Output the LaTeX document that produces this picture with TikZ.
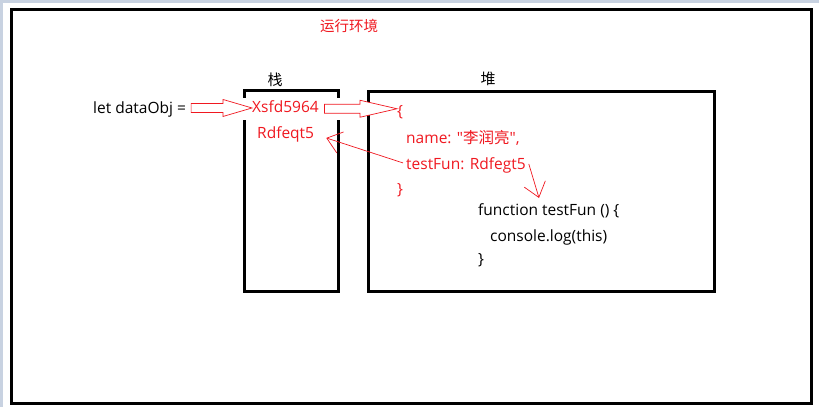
\documentclass[tikz,border=0pt]{standalone}
\usepackage{fontspec}
\setmainfont{Open Sans}
\newfontfamily\cjk{Noto Sans CJK SC}
\newfontfamily\qfont{Open Sans}
\usepackage{tikz}
\usetikzlibrary{positioning, calc, arrows.meta}
\definecolor{myred}{RGB}{240,24,32}
\definecolor{bgframe}{RGB}{200,210,225}

\tikzset{
	txt/.style={inner sep=0pt, anchor=base west, font=\fontsize{15.5}{18}\selectfont},
	code/.style={txt, text=myred},
	hanzi/.style={inner sep=0pt, font=\cjk\fontsize{15}{18}\selectfont},
	box/.style={draw, line width=3pt},
	addrbox/.style={code, fill=white, text width=80pt, align=left, inner xsep=9pt, inner ysep=3pt, text height=11.5pt, text depth=5pt},
	ptr/.style={draw=myred, line width=0.7pt, -{Straight Barb[length=14pt, width=22pt]}},
	bigarrow/.style={draw=myred, fill=white, line width=0.7pt,
		to path={let \p1=(\tikztostart), \p2=(\tikztotarget) in
			(\x1,\y1+4.5pt) -- (\x2-#1,\y1+4.5pt) -- (\x2-#1,\y1+8.5pt) -- (\x2,\y1)
			-- (\x2-#1,\y1-8.5pt) -- (\x2-#1,\y1-4.5pt) -- (\x1,\y1-4.5pt) -- cycle}},
	bigarrow/.default=30pt
}

\begin{document}
\begin{tikzpicture}[x=1pt, y=-1pt]
	\useasboundingbox (0,0) rectangle (819,407);
	\fill[bgframe] (0,0) rectangle (819,407);
	\fill[white] (3,3) rectangle (819,407);
	\draw[line width=3pt] (11.5,9.5) rectangle (811.5,403.5);

	\node[box, minimum width=94pt, minimum height=201pt] (stack) at (291.5,191) {};
	\node[box, minimum width=346pt, minimum height=200pt] (heap) at (541.5,191.5) {};

	\node[hanzi, text=myred, font=\cjk\fontsize{14.5}{18}\selectfont] (env) at (349,26) {运行环境};
	\node[hanzi] (stackname) at (275,80) {栈};
	\node[hanzi] (heapname) at (488,79) {堆};

	\node[txt] (letObj) at (93,113) {let dataObj =};
	\node[addrbox] (addr) at (243,112) {Xsfd5964};
	\node[code] (fnAddr) at (257,138) {Rdfeqt5};

	\node[code] (open) at (397,116) {\{};
	\node[code] (name) at (406,143) {name: {\qfont"}{\cjk 李润亮}{\qfont"},};
	\node[code] (testFun) at (406,169) {testFun: Rdfegt5};
	\node[code] (close) at (397,194) {\}};

	\node[txt] (fnHead) at (478,215) {function testFun () \{};
	\node[txt] (fnBody) at (490,241) {console.log(this)};
	\node[txt] (fnClose) at (478,264) {\}};

	\draw[bigarrow=29pt] ($(letObj.east)+(5,-1)$) to ($(addr.west)+(9,-1)$);
	\draw[bigarrow=37pt] ($(addr.east)+(-17,0)$) to (open.west);
	\draw[ptr] ($(testFun.west)+(-3,-2)$) -- ($(fnAddr.east)+(12,4)$);
	\draw[ptr] ($(testFun.east)+(3,-1)$) -- ($(fnHead.north west)+(61,-5)$);
\end{tikzpicture}
\end{document}
